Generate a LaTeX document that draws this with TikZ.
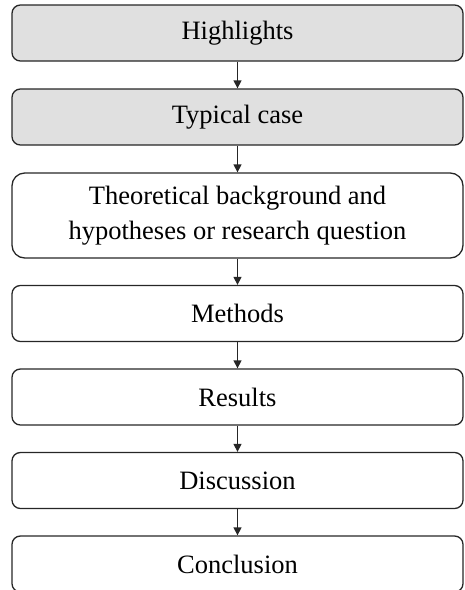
\documentclass[tikz,border=0pt]{standalone}
\usepackage{fontspec}
\setmainfont{Liberation Serif}
\usetikzlibrary{arrows.meta}

\tikzset{
  stage/.style={draw=black!85, line width=1.3pt, rounded corners=8.4pt,
    minimum width=451pt, minimum height=56pt, inner sep=0pt,
    align=center, font=\fontsize{26.5}{35}\selectfont},
  shaded/.style={stage, fill=black!12},
  tallstage/.style={stage, minimum height=85pt, rounded corners=12.75pt},
  flow/.style={draw=black!85, line width=1.3pt, -{Triangle[length=8pt,width=8pt]}}
}

\begin{document}
\begin{tikzpicture}[x=1pt, y=-1pt]
  \useasboundingbox (0,0) rectangle (464,590);
  \clip (0,0) rectangle (464,590);

  \node[shaded]    (hl)   at (237.5,33)    {Highlights};
  \node[shaded]    (tc)   at (237.5,117)   {Typical case};
  \node[tallstage] (tb)   at (237.5,215.5) {Theoretical background and\\hypotheses or research question};
  \node[stage]     (meth) at (237.5,313.5) {Methods};
  \node[stage]     (res)  at (237.5,397)   {Results};
  \node[stage]     (disc) at (237.5,480.5) {Discussion};
  \node[stage]     (conc) at (237.5,564)   {Conclusion};

  \draw[flow] (hl)   -- (tc);
  \draw[flow] (tc)   -- (tb);
  \draw[flow] (tb)   -- (meth);
  \draw[flow] (meth) -- (res);
  \draw[flow] (res)  -- (disc);
  \draw[flow] (disc) -- (conc);
\end{tikzpicture}
\end{document}
